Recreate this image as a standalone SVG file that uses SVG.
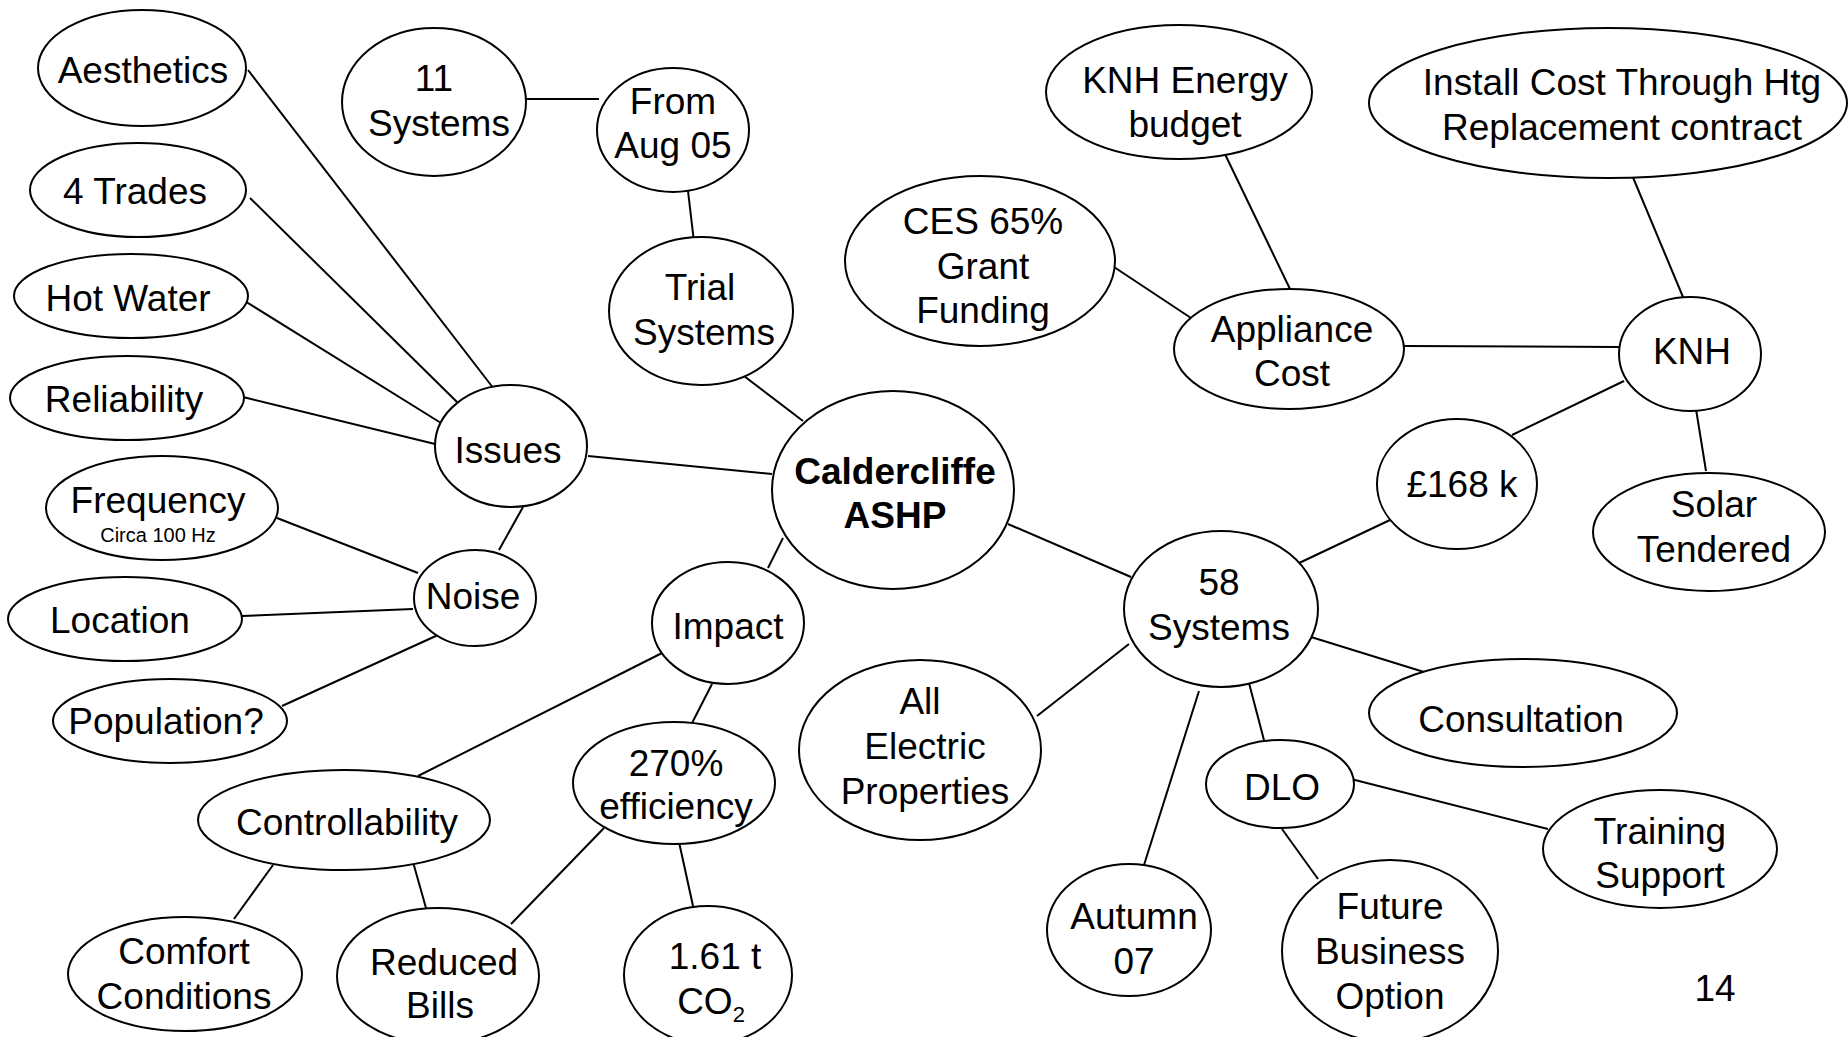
<svg xmlns="http://www.w3.org/2000/svg" width="1848" height="1037" viewBox="0 0 1848 1037">
<style>
ellipse{fill:#fff;stroke:#000;stroke-width:2}
line{stroke:#000;stroke-width:2}
text{font-family:"Liberation Sans",Arial,sans-serif;font-size:37px;fill:#000;text-anchor:middle}
.b{font-weight:bold}
.s{font-size:20px}
</style>
<rect width="1848" height="1037" fill="#fff"/>
<g id="connectors">
<line x1="248" y1="70" x2="494" y2="389"/>
<line x1="250" y1="198" x2="457" y2="402"/>
<line x1="240" y1="298" x2="441" y2="423"/>
<line x1="243" y1="397" x2="435" y2="444"/>
<line x1="588" y1="456" x2="772" y2="474"/>
<line x1="526" y1="99" x2="599" y2="99"/>
<line x1="688" y1="191" x2="694" y2="242"/>
<line x1="744" y1="376" x2="803" y2="421"/>
<line x1="1111" y1="265" x2="1191" y2="318"/>
<line x1="1223" y1="150" x2="1290" y2="289"/>
<line x1="1404" y1="346" x2="1619" y2="347"/>
<line x1="1632" y1="175" x2="1683" y2="297"/>
<line x1="1624" y1="381" x2="1512" y2="435"/>
<line x1="1696" y1="409" x2="1706" y2="471"/>
<line x1="1390" y1="520" x2="1297" y2="564"/>
<line x1="1008" y1="524" x2="1131" y2="577"/>
<line x1="1129" y1="644" x2="1037" y2="716"/>
<line x1="1311" y1="637" x2="1424" y2="672"/>
<line x1="1249" y1="683" x2="1265" y2="744"/>
<line x1="1199" y1="691" x2="1144" y2="865"/>
<line x1="1351" y1="779" x2="1548" y2="829"/>
<line x1="1282" y1="829" x2="1318" y2="879"/>
<line x1="523" y1="507" x2="499" y2="550"/>
<line x1="277" y1="518" x2="418" y2="573"/>
<line x1="242" y1="616" x2="413" y2="609"/>
<line x1="282" y1="706" x2="438" y2="635"/>
<line x1="783" y1="538" x2="768" y2="568"/>
<line x1="666" y1="651" x2="418" y2="776"/>
<line x1="712" y1="684" x2="690" y2="727"/>
<line x1="273" y1="865" x2="234" y2="919"/>
<line x1="413" y1="862" x2="426" y2="908"/>
<line x1="604" y1="828" x2="511" y2="924"/>
<line x1="679" y1="842" x2="693" y2="906"/>
</g>
<g id="aesthetics"><ellipse cx="142" cy="68" rx="104" ry="58"/><text x="143" y="83">Aesthetics</text></g>
<g id="trades"><ellipse cx="138" cy="190" rx="108" ry="47"/><text x="135" y="204">4 Trades</text></g>
<g id="hotwater"><ellipse cx="131" cy="296" rx="117" ry="42"/><text x="128" y="311">Hot Water</text></g>
<g id="reliability"><ellipse cx="127" cy="398" rx="117" ry="42"/><text x="124" y="412">Reliability</text></g>
<g id="issues"><ellipse cx="511" cy="446" rx="76" ry="61"/><text x="508" y="463">Issues</text></g>
<g id="eleven"><ellipse cx="434" cy="102" rx="92" ry="74"/><text x="434" y="91">11</text><text x="439" y="136">Systems</text></g>
<g id="from"><ellipse cx="673" cy="130" rx="76" ry="62"/><text x="673" y="114">From</text><text x="673" y="158">Aug 05</text></g>
<g id="trial"><ellipse cx="701" cy="311" rx="92" ry="74"/><text x="700" y="300">Trial</text><text x="704" y="345">Systems</text></g>
<g id="center"><ellipse cx="893" cy="490" rx="121" ry="99"/><text class="b" x="895" y="484">Caldercliffe</text><text class="b" x="895" y="528">ASHP</text></g>
<g id="ces"><ellipse cx="980" cy="261" rx="135" ry="85"/><text x="983" y="234">CES 65%</text><text x="983" y="279">Grant</text><text x="983" y="323">Funding</text></g>
<g id="knhenergy"><ellipse cx="1179" cy="92" rx="133" ry="67"/><text x="1185" y="93">KNH Energy</text><text x="1185" y="137">budget</text></g>
<g id="appliance"><ellipse cx="1289" cy="349" rx="115" ry="60"/><text x="1292" y="342">Appliance</text><text x="1292" y="386">Cost</text></g>
<g id="install"><ellipse cx="1608" cy="103" rx="239" ry="75"/><text x="1622" y="95">Install Cost Through Htg</text><text x="1622" y="140">Replacement contract</text></g>
<g id="knh"><ellipse cx="1690" cy="354" rx="71" ry="57"/><text x="1692" y="364">KNH</text></g>
<g id="cost168"><ellipse cx="1457" cy="484" rx="80" ry="65"/><text x="1462" y="497">£168 k</text></g>
<g id="solar"><ellipse cx="1709" cy="532" rx="116" ry="59"/><text x="1714" y="517">Solar</text><text x="1714" y="562">Tendered</text></g>
<g id="systems58"><ellipse cx="1221" cy="609" rx="97" ry="78"/><text x="1219" y="595">58</text><text x="1219" y="640">Systems</text></g>
<g id="consultation"><ellipse cx="1523" cy="713" rx="154" ry="54"/><text x="1521" y="732">Consultation</text></g>
<g id="allelectric"><ellipse cx="920" cy="750" rx="121" ry="90"/><text x="920" y="714">All</text><text x="925" y="759">Electric</text><text x="925" y="804">Properties</text></g>
<g id="dlo"><ellipse cx="1280" cy="784" rx="74" ry="44"/><text x="1282" y="800">DLO</text></g>
<g id="training"><ellipse cx="1660" cy="849" rx="117" ry="59"/><text x="1660" y="844">Training</text><text x="1660" y="888">Support</text></g>
<g id="autumn"><ellipse cx="1129" cy="930" rx="82" ry="66"/><text x="1134" y="929">Autumn</text><text x="1134" y="974">07</text></g>
<g id="future"><ellipse cx="1390" cy="951" rx="108" ry="91"/><text x="1390" y="919">Future</text><text x="1390" y="964">Business</text><text x="1390" y="1009">Option</text></g>
<g id="frequency"><ellipse cx="162" cy="508" rx="116" ry="52"/><text x="158" y="513">Frequency</text><text class="s" x="158" y="542">Circa 100 Hz</text></g>
<g id="location"><ellipse cx="125" cy="619" rx="117" ry="42"/><text x="120" y="633">Location</text></g>
<g id="population"><ellipse cx="170" cy="721" rx="117" ry="42"/><text x="166" y="734">Population?</text></g>
<g id="noise"><ellipse cx="475" cy="598" rx="61" ry="48"/><text x="473" y="609">Noise</text></g>
<g id="impact"><ellipse cx="728" cy="623" rx="76" ry="61"/><text x="728" y="639">Impact</text></g>
<g id="controllability"><ellipse cx="344" cy="820" rx="146" ry="50"/><text x="347" y="835">Controllability</text></g>
<g id="efficiency"><ellipse cx="674" cy="783" rx="101" ry="61"/><text x="676" y="776">270%</text><text x="676" y="819">efficiency</text></g>
<g id="comfort"><ellipse cx="185" cy="974" rx="117" ry="57"/><text x="184" y="964">Comfort</text><text x="184" y="1009">Conditions</text></g>
<g id="reduced"><ellipse cx="438" cy="976" rx="101" ry="68"/><text x="444" y="975">Reduced</text><text x="440" y="1018">Bills</text></g>
<g id="co2"><ellipse cx="708" cy="975" rx="84" ry="69"/><text x="715" y="969">1.61 t</text><text x="711" y="1014">CO<tspan font-size="22" dy="8">2</tspan></text></g>
<g id="pagenum"><text x="1715" y="1001">14</text></g>
</svg>
